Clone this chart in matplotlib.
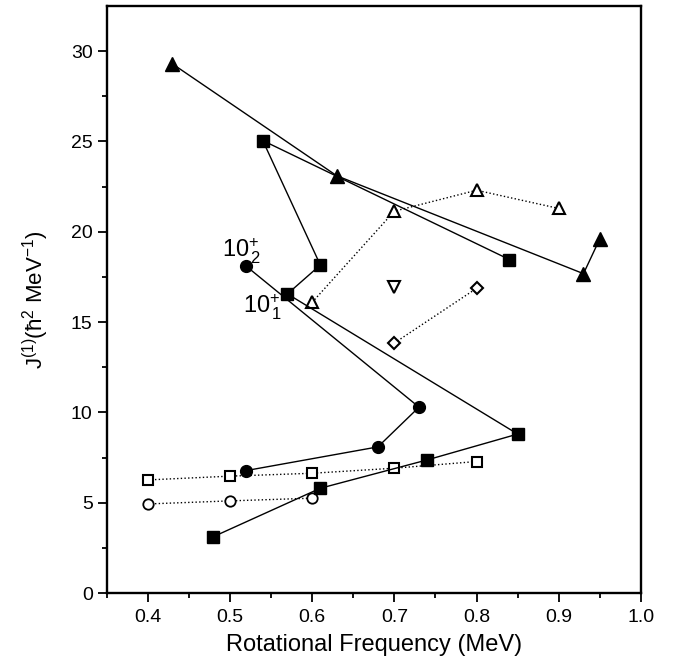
import matplotlib
matplotlib.use("Agg")
import matplotlib.pyplot as plt

plt.rcParams['font.family'] = ['Liberation Sans', 'DejaVu Sans']
plt.rcParams['mathtext.fontset'] = 'custom'
plt.rcParams['mathtext.rm'] = 'Liberation Sans'
plt.rcParams['mathtext.it'] = 'Liberation Sans'

# Data
sq_x = [0.48, 0.61, 0.74, 0.85, 0.57, 0.61, 0.54, 0.84]
sq_y = [3.12, 5.80, 7.37, 8.80, 16.56, 18.16, 25.05, 18.46]

circ_x = [0.52, 0.68, 0.73, 0.52]
circ_y = [6.78, 8.09, 10.29, 18.09]

tri_x = [0.43, 0.63, 0.93, 0.95]
tri_y = [29.3, 23.1, 17.68, 19.62]

otri_x = [0.60, 0.70, 0.80, 0.90]
otri_y = [16.09, 21.14, 22.30, 21.29]

dtri_x = [0.70]
dtri_y = [16.94]

dia_x = [0.70, 0.80]
dia_y = [13.84, 16.87]

osq_x = [0.40, 0.50, 0.60, 0.70, 0.80]
osq_y = [6.26, 6.47, 6.63, 6.91, 7.28]

ocirc_x = [0.40, 0.50, 0.60]
ocirc_y = [4.93, 5.10, 5.25]

fig = plt.figure(figsize=(6.73, 6.66), dpi=100)
ax = fig.add_axes([0.1583, 0.1096, 0.7942, 0.8814])

lw = 1.0
# dotted open-symbol series
ax.plot(osq_x, osq_y, ':', color='black', lw=lw, marker='s', ms=7,
        mfc='white', mec='black', mew=1.5)
ax.plot(ocirc_x, ocirc_y, ':', color='black', lw=lw, marker='o', ms=7.5,
        mfc='white', mec='black', mew=1.3)
ax.plot(otri_x, otri_y, ':', color='black', lw=lw, marker='^', ms=8,
        mfc='white', mec='black', mew=1.5)
ax.plot(dia_x, dia_y, ':', color='black', lw=lw, marker='D', ms=6,
        mfc='white', mec='black', mew=1.5)
ax.plot(dtri_x, dtri_y, linestyle='none', marker='v', ms=8,
        mfc='white', mec='black', mew=1.5)

# solid filled series
ax.plot(sq_x, sq_y, '-', color='black', lw=lw, marker='s', ms=8)
ax.plot(circ_x, circ_y, '-', color='black', lw=lw, marker='o', ms=8.5)
ax.plot(tri_x, tri_y, '-', color='black', lw=lw, marker='^', ms=10)

ax.text(0.4903, 18.57, r'$10^{+}_{\,2}$', fontsize=17, va='baseline', ha='left')
ax.text(0.5159, 15.47, r'$10^{+}_{\,1}$', fontsize=17, va='baseline', ha='left')

ax.set_xlim(0.35, 1.0)
ax.set_ylim(0, 32.5)
ax.set_xticks([0.4, 0.5, 0.6, 0.7, 0.8, 0.9, 1.0])
ax.set_xticks([0.35, 0.45, 0.55, 0.65, 0.75, 0.85, 0.95], minor=True)
ax.set_yticks([0, 5, 10, 15, 20, 25, 30])
ax.set_yticks([2.5, 7.5, 12.5, 17.5, 22.5, 27.5], minor=True)
ax.tick_params(which='both', direction='out', labelsize=14, width=1.3)
ax.tick_params(which='major', length=6.5)
ax.tick_params(axis='x', which='major', pad=5)
ax.tick_params(which='minor', length=3.5)
for s in ax.spines.values():
    s.set_linewidth(1.7)

ax.set_xlabel('Rotational Frequency (MeV)', fontsize=17, labelpad=6)
ax.set_ylabel(r'J$^{(1)}$(ħ$^{2}$ MeV$^{-1}$)', fontsize=16, labelpad=14)

fig.savefig('out.png', dpi=100)
